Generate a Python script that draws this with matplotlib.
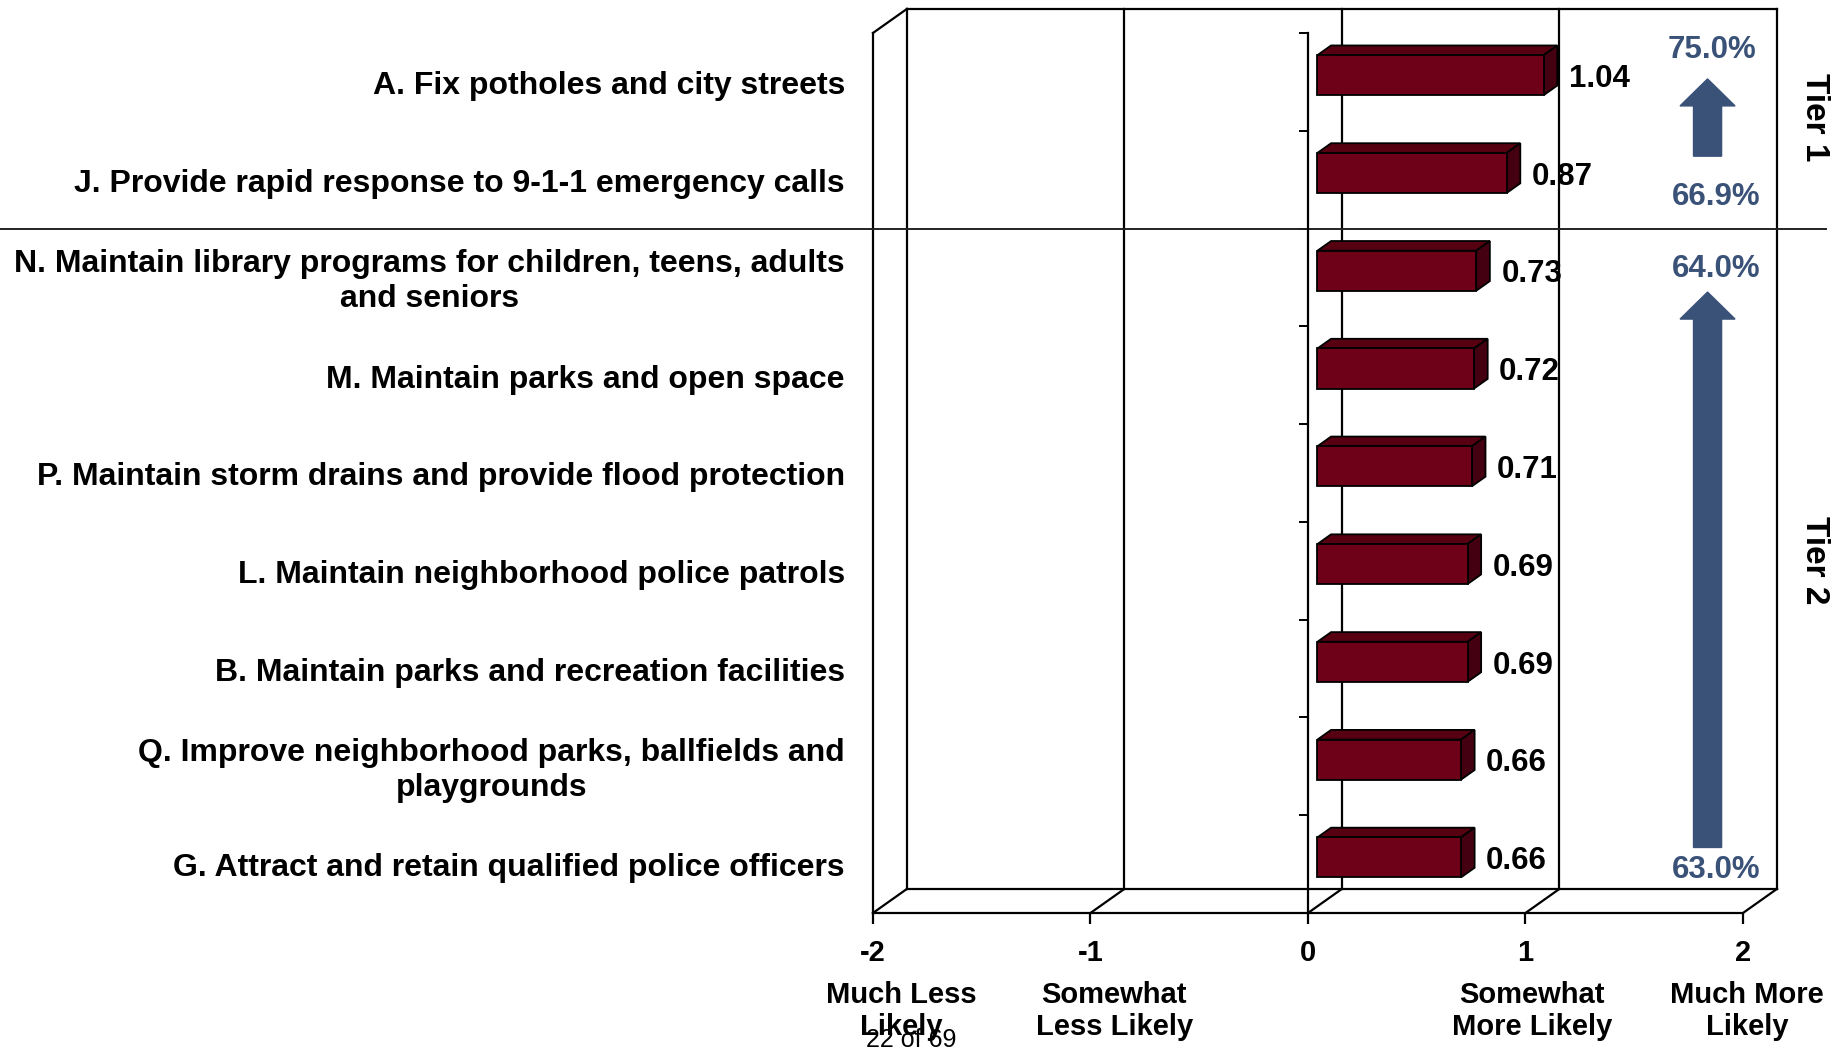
import matplotlib.pyplot as plt
import numpy as np
from matplotlib.patches import Polygon, Rectangle, FancyArrow
from matplotlib.transforms import blended_transform_factory

plt.rcParams['font.family'] = ['Liberation Sans', 'DejaVu Sans']
plt.rcParams['font.weight'] = 'bold'

# data
services = [
    "A. Fix potholes and city streets",
    "J. Provide rapid response to 9-1-1 emergency calls",
    "N. Maintain library programs for children, teens, adults\nand seniors",
    "M. Maintain parks and open space",
    "P. Maintain storm drains and provide flood protection",
    "L. Maintain neighborhood police patrols",
    "B. Maintain parks and recreation facilities",
    "Q. Improve neighborhood parks, ballfields and\nplaygrounds",
    "G. Attract and retain qualified police officers",
]
scores = [1.04, 0.87, 0.73, 0.72, 0.71, 0.69, 0.69, 0.66, 0.66]
x_ticks = [-2, -1, 0, 1, 2]
scale_labels = ["Much Less\nLikely", "Somewhat\nLess Likely", "", "Somewhat\nMore Likely", "Much More\nLikely"]
tier_names = ["Tier 1", "Tier 2"]
tier_top_pct = ["75.0%", "64.0%"]
tier_bottom_pct = ["66.9%", "63.0%"]

# layout
scale_label_x = [-1.87, -0.89, 0, 1.03, 2.02]
tier_label_y = [0.36, 4.89]
arrow_tip = [-0.03, 2.15]
arrow_tail = [0.76, 7.83]
top_pct_x = [1.856, 1.879]
top_pct_y = [-0.325, 1.915]
bottom_pct_y = [1.175, 8.06]

DX, DY = 0.156, -0.246       # depth offset of back wall
front, back, bar_h = 0.28, 0.68, 0.41
blue = '#3A5278'
lw = 1.6

fig = plt.figure(figsize=(18.39, 10.5), dpi=100)
ax = fig.add_axes([0.4747, 0.1305, 0.4731, 0.8381])
ax.set_xlim(-2, 2)
ax.set_ylim(8.5, -0.5)

for s in ['top', 'right']:
    ax.spines[s].set_visible(False)
ax.spines['left'].set_position(('data', 0))
ax.spines['left'].set_linewidth(lw)
ax.spines['bottom'].set_linewidth(lw)

ax.set_yticks(np.arange(-0.5, 9, 1))
ax.set_yticklabels([])
ax.tick_params(axis='y', direction='out', length=6.5, width=1.4)
ax.set_xticks(x_ticks)
ax.set_xticklabels([str(t) for t in x_ticks], fontsize=21, fontweight='bold')
ax.tick_params(axis='x', direction='out', length=8, width=lw, pad=11)

# walls and floor
ax.plot([-2, -2], [-0.5, 8.5], color='black', lw=lw, clip_on=False)
ax.plot([-2, -2 + DX], [-0.5, -0.5 + DY], color='black', lw=lw, clip_on=False)
ax.plot([-2 + DX, 2 + DX], [-0.5 + DY] * 2, color='black', lw=lw, clip_on=False)
ax.plot([-2 + DX, 2 + DX], [8.5 + DY] * 2, color='black', lw=lw, clip_on=False)
for x in x_ticks:
    ax.plot([x + DX] * 2, [-0.5 + DY, 8.5 + DY], color='black', lw=lw, clip_on=False, zorder=1)
    ax.plot([x, x + DX], [8.5, 8.5 + DY], color='black', lw=lw, clip_on=False, zorder=1)

# tier divider across the whole figure
trans = blended_transform_factory(fig.transFigure, ax.transData)
ax.plot([0, 0.993], [1.5, 1.5], transform=trans, color='#222222', lw=1.4, clip_on=False)

# 3D bars
ddx, ddy = (back - front) * DX, (back - front) * DY
for i, v in enumerate(scores):
    x0, x1 = front * DX, v + front * DX
    yt, yb = i - bar_h / 2 + front * DY, i + bar_h / 2 + front * DY
    ax.add_patch(Polygon([(x0, yt), (x1, yt), (x1 + ddx, yt + ddy), (x0 + ddx, yt + ddy)],
                         facecolor='#560012', edgecolor='black', lw=1.3, zorder=3))
    ax.add_patch(Polygon([(x1, yt), (x1 + ddx, yt + ddy), (x1 + ddx, yb + ddy), (x1, yb)],
                         facecolor='#440010', edgecolor='black', lw=1.3, zorder=3))
    ax.add_patch(Rectangle((x0, yt), v, bar_h, facecolor='#6E0018', edgecolor='black', lw=1.3, zorder=4))
    ax.text(x1 + 0.115, i - 0.03, f"{v:.2f}", ha='left', va='center', fontsize=22.5, zorder=5)

for i, name in enumerate(services):
    ax.text(-2.129, i + 0.045, name, ha='right', va='center', multialignment='center',
            fontsize=23, linespacing=1.22, clip_on=False)

for x, lab in zip(scale_label_x, scale_labels):
    if lab:
        ax.text(x, 9.5, lab, ha='center', va='center', fontsize=21, linespacing=1.2, clip_on=False)
ax.text(-1.825, 9.8, "22 of 69", ha='center', va='center', fontsize=18, fontweight='normal', clip_on=False)

# tier arrows and percentages
for k in range(2):
    ax.add_patch(FancyArrow(1.837, arrow_tail[k], 0, arrow_tip[k] - arrow_tail[k], width=0.129,
                            head_width=0.253, head_length=0.276, length_includes_head=True,
                            color=blue, clip_on=False, zorder=3))
    ax.text(top_pct_x[k], top_pct_y[k], tier_top_pct[k], ha='center', va='center',
            fontsize=22.5, color=blue, clip_on=False)
    ax.text(1.879, bottom_pct_y[k], tier_bottom_pct[k], ha='center', va='center',
            fontsize=22.5, color=blue, clip_on=False)
    ax.text(2.329, tier_label_y[k], tier_names[k], rotation=-90, ha='center', va='center',
            fontsize=24, clip_on=False)

fig.savefig('out.png', dpi=100)
